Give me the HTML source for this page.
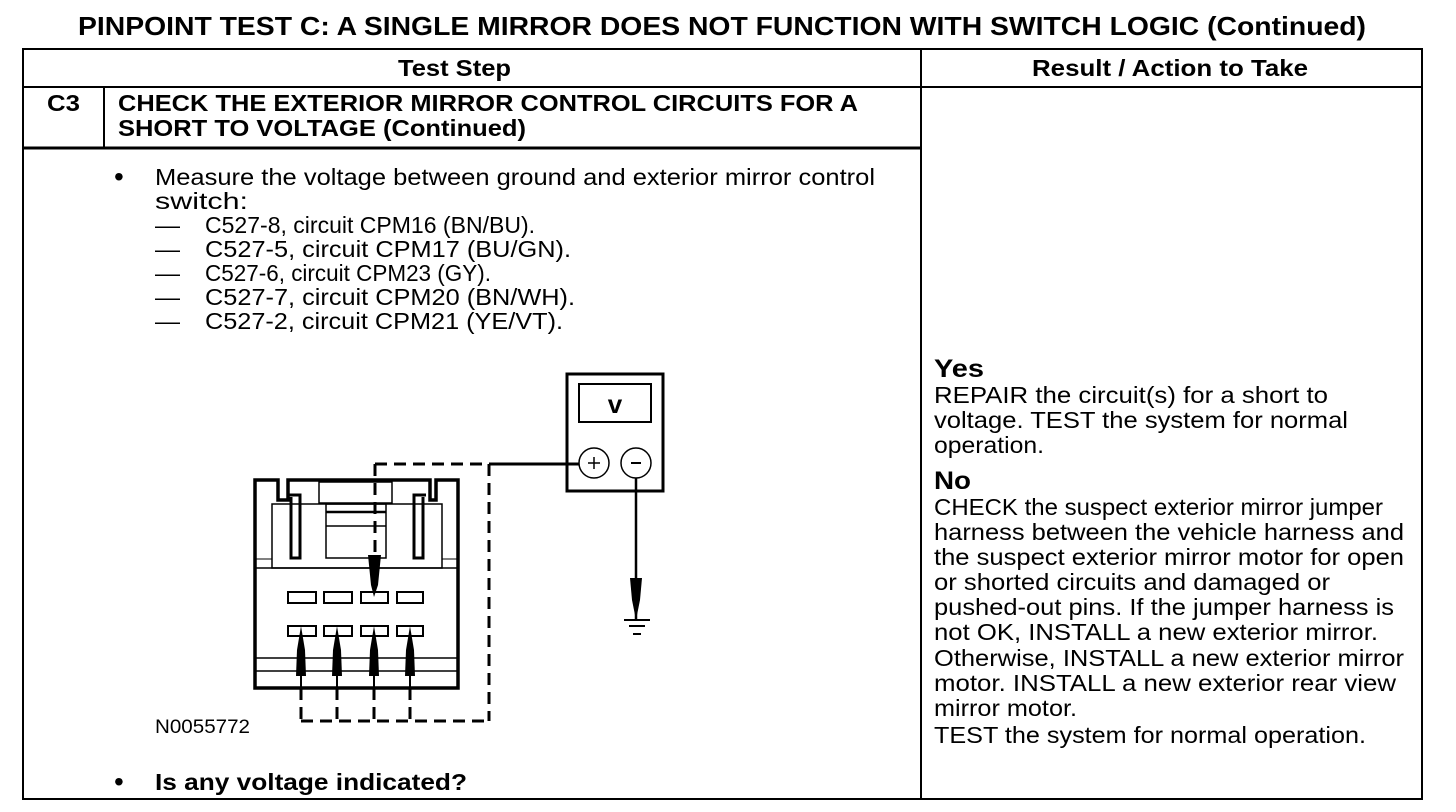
<!DOCTYPE html>
<html><head><meta charset="utf-8"><style>
html,body{margin:0;padding:0;background:#fff}
svg{display:block}
text{font-family:"Liberation Sans",Arial,sans-serif;fill:#000}
.b{font-weight:bold}
</style></head><body>
<svg width="1456" height="812" viewBox="0 0 1456 812" xmlns="http://www.w3.org/2000/svg">
<text class="b" x="78" y="35" font-size="26" textLength="1288" lengthAdjust="spacingAndGlyphs">PINPOINT TEST  C: A SINGLE MIRROR DOES NOT FUNCTION WITH SWITCH LOGIC (Continued)</text>
<g stroke="#000" fill="none">
<rect x="23" y="49" width="1399" height="750" stroke-width="2"/>
<line x1="23" y1="87" x2="1422" y2="87" stroke-width="2"/>
<line x1="921" y1="49" x2="921" y2="799" stroke-width="2"/>
<line x1="104" y1="87" x2="104" y2="148" stroke-width="2"/>
<line x1="23" y1="148" x2="921" y2="148" stroke-width="3"/>
</g>
<text class="b" x="398" y="76" font-size="23" textLength="113" lengthAdjust="spacingAndGlyphs">Test Step</text>
<text class="b" x="1032" y="76" font-size="23" textLength="276" lengthAdjust="spacingAndGlyphs">Result / Action to Take</text>
<text class="b" x="47" y="111" font-size="23" textLength="33" lengthAdjust="spacingAndGlyphs">C3</text>
<text class="b" x="118" y="111" font-size="23" textLength="740" lengthAdjust="spacingAndGlyphs">CHECK THE EXTERIOR MIRROR CONTROL CIRCUITS FOR A</text>
<text class="b" x="118" y="136" font-size="23" textLength="408" lengthAdjust="spacingAndGlyphs">SHORT TO VOLTAGE (Continued)</text>

<g font-size="23">
<text x="114" y="186" font-size="28">•</text>
<text x="155" y="185" textLength="720" lengthAdjust="spacingAndGlyphs">Measure the voltage between ground and exterior mirror control</text>
<text x="155" y="209" textLength="93" lengthAdjust="spacingAndGlyphs">switch:</text>
<text x="155" y="233" textLength="25" lengthAdjust="spacingAndGlyphs">—</text><text x="205" y="233" textLength="330" lengthAdjust="spacingAndGlyphs">C527-8, circuit CPM16 (BN/BU).</text>
<text x="155" y="257" textLength="25" lengthAdjust="spacingAndGlyphs">—</text><text x="205" y="257" textLength="366" lengthAdjust="spacingAndGlyphs">C527-5, circuit CPM17 (BU/GN).</text>
<text x="155" y="281" textLength="25" lengthAdjust="spacingAndGlyphs">—</text><text x="205" y="281" textLength="286" lengthAdjust="spacingAndGlyphs">C527-6, circuit CPM23 (GY).</text>
<text x="155" y="305" textLength="25" lengthAdjust="spacingAndGlyphs">—</text><text x="205" y="305" textLength="370" lengthAdjust="spacingAndGlyphs">C527-7, circuit CPM20 (BN/WH).</text>
<text x="155" y="329" textLength="25" lengthAdjust="spacingAndGlyphs">—</text><text x="205" y="329" textLength="358" lengthAdjust="spacingAndGlyphs">C527-2, circuit CPM21 (YE/VT).</text>
<text x="155" y="733" font-size="19" textLength="95" lengthAdjust="spacingAndGlyphs">N0055772</text>
<text x="114" y="791" font-size="28">•</text>
<text class="b" x="155" y="790" textLength="312" lengthAdjust="spacingAndGlyphs">Is any voltage indicated?</text>
</g>

<g font-size="23">
<text class="b" x="934" y="377" font-size="25" textLength="50" lengthAdjust="spacingAndGlyphs">Yes</text>
<text x="934" y="403" textLength="394" lengthAdjust="spacingAndGlyphs">REPAIR the circuit(s) for a short to</text>
<text x="934" y="428" textLength="414" lengthAdjust="spacingAndGlyphs">voltage. TEST the system for normal</text>
<text x="934" y="453" textLength="110" lengthAdjust="spacingAndGlyphs">operation.</text>
<text class="b" x="934" y="489" font-size="25" textLength="37" lengthAdjust="spacingAndGlyphs">No</text>
<text x="934" y="515" textLength="449" lengthAdjust="spacingAndGlyphs">CHECK the suspect exterior mirror jumper</text>
<text x="934" y="540" textLength="470" lengthAdjust="spacingAndGlyphs">harness between the vehicle harness and</text>
<text x="934" y="565" textLength="470" lengthAdjust="spacingAndGlyphs">the suspect exterior mirror motor for open</text>
<text x="934" y="590" textLength="396" lengthAdjust="spacingAndGlyphs">or shorted circuits and damaged or</text>
<text x="934" y="615" textLength="460" lengthAdjust="spacingAndGlyphs">pushed-out pins. If the jumper harness is</text>
<text x="934" y="640" textLength="444" lengthAdjust="spacingAndGlyphs">not OK, INSTALL a new exterior mirror.</text>
<text x="934" y="666" textLength="470" lengthAdjust="spacingAndGlyphs">Otherwise, INSTALL a new exterior mirror</text>
<text x="934" y="691" textLength="462" lengthAdjust="spacingAndGlyphs">motor. INSTALL a new exterior rear view</text>
<text x="934" y="716" textLength="143" lengthAdjust="spacingAndGlyphs">mirror motor.</text>
<text x="934" y="743" textLength="432" lengthAdjust="spacingAndGlyphs">TEST the system for normal operation.</text>
</g>

<g stroke="#000" fill="none">
<path d="M255,688 V480 H278 V500 H288 V480 H430 V500 H436 V480 H458 V688 Z" stroke-width="3.5"/>
<rect x="272" y="504" width="170" height="64" stroke-width="1.5"/>
<line x1="255" y1="568" x2="458" y2="568" stroke-width="1.5"/>
<rect x="319" y="482" width="73" height="21" stroke-width="1.5"/>
<rect x="326" y="504" width="60" height="54" stroke-width="1.5"/>
<line x1="326" y1="512" x2="386" y2="512" stroke-width="2.5"/>
<line x1="326" y1="526" x2="386" y2="526" stroke-width="1.5"/>
<path d="M288,495 H300 V558 H291 V497" stroke-width="3"/>
<path d="M426,495 H414 V558 H423 V497" stroke-width="3"/>
<line x1="255" y1="559" x2="272" y2="559" stroke-width="1"/>
<line x1="442" y1="559" x2="458" y2="559" stroke-width="1"/>
<g stroke-width="2">
<rect x="288" y="592" width="28" height="11"/><rect x="324" y="592" width="28" height="11"/><rect x="361" y="592" width="27" height="11"/><rect x="397" y="592" width="26" height="11"/>
<rect x="288" y="626" width="28" height="10"/><rect x="324" y="626" width="28" height="10"/><rect x="361" y="626" width="27" height="10"/><rect x="397" y="626" width="26" height="10"/>
</g>
<line x1="255" y1="658" x2="458" y2="658" stroke-width="1.5"/>
<line x1="255" y1="671" x2="458" y2="671" stroke-width="1.5"/>
<g stroke-width="3" stroke-dasharray="12,7">
<line x1="375" y1="464" x2="375" y2="555"/>
<line x1="375" y1="464" x2="490" y2="464"/>
<line x1="489" y1="464" x2="489" y2="721"/>
<line x1="301" y1="721" x2="489" y2="721"/>
<line x1="301" y1="688" x2="301" y2="721"/>
<line x1="337" y1="688" x2="337" y2="721"/>
<line x1="374" y1="688" x2="374" y2="721"/>
<line x1="410" y1="688" x2="410" y2="721"/>
</g>
<line x1="490" y1="464" x2="579" y2="464" stroke-width="3"/>
<rect x="567" y="374" width="96" height="117" stroke-width="3"/>
<rect x="579" y="384" width="72" height="38" stroke-width="2"/>
<circle cx="594" cy="463" r="15" stroke-width="1.5"/>
<circle cx="636" cy="463" r="15" stroke-width="1.5"/>
<line x1="588" y1="463" x2="600" y2="463" stroke-width="1.5"/><line x1="594" y1="457" x2="594" y2="469" stroke-width="1.5"/>
<line x1="631" y1="463" x2="641" y2="463" stroke-width="2"/>
<line x1="636" y1="478" x2="636" y2="620" stroke-width="2.5"/>
<line x1="624" y1="620" x2="650" y2="620" stroke-width="2"/>
<line x1="629" y1="626" x2="645" y2="626" stroke-width="2"/>
<line x1="633" y1="634" x2="641" y2="634" stroke-width="2"/>
</g>
<g fill="#000">
<text x="615" y="413" font-size="26" font-family="Liberation Serif" font-weight="bold" text-anchor="middle">v</text>
<path d="M374,597 L371,585 L368,555 H381 L378,585 Z"/>
<path d="M301,626 L297,650 L296,676 H306 L305,650 Z"/><line x1="301" y1="676" x2="301" y2="688" stroke="#000" stroke-width="2"/>
<path d="M337,626 L333,650 L332,676 H342 L341,650 Z"/><line x1="337" y1="676" x2="337" y2="688" stroke="#000" stroke-width="2"/>
<path d="M374,626 L370,650 L369,676 H379 L378,650 Z"/><line x1="374" y1="676" x2="374" y2="688" stroke="#000" stroke-width="2"/>
<path d="M410,626 L406,650 L405,676 H415 L414,650 Z"/><line x1="410" y1="676" x2="410" y2="688" stroke="#000" stroke-width="2"/>
<path d="M636,620 L632,600 L630,578 H642 L640,600 Z"/>
</g>
</svg>
</body></html>
